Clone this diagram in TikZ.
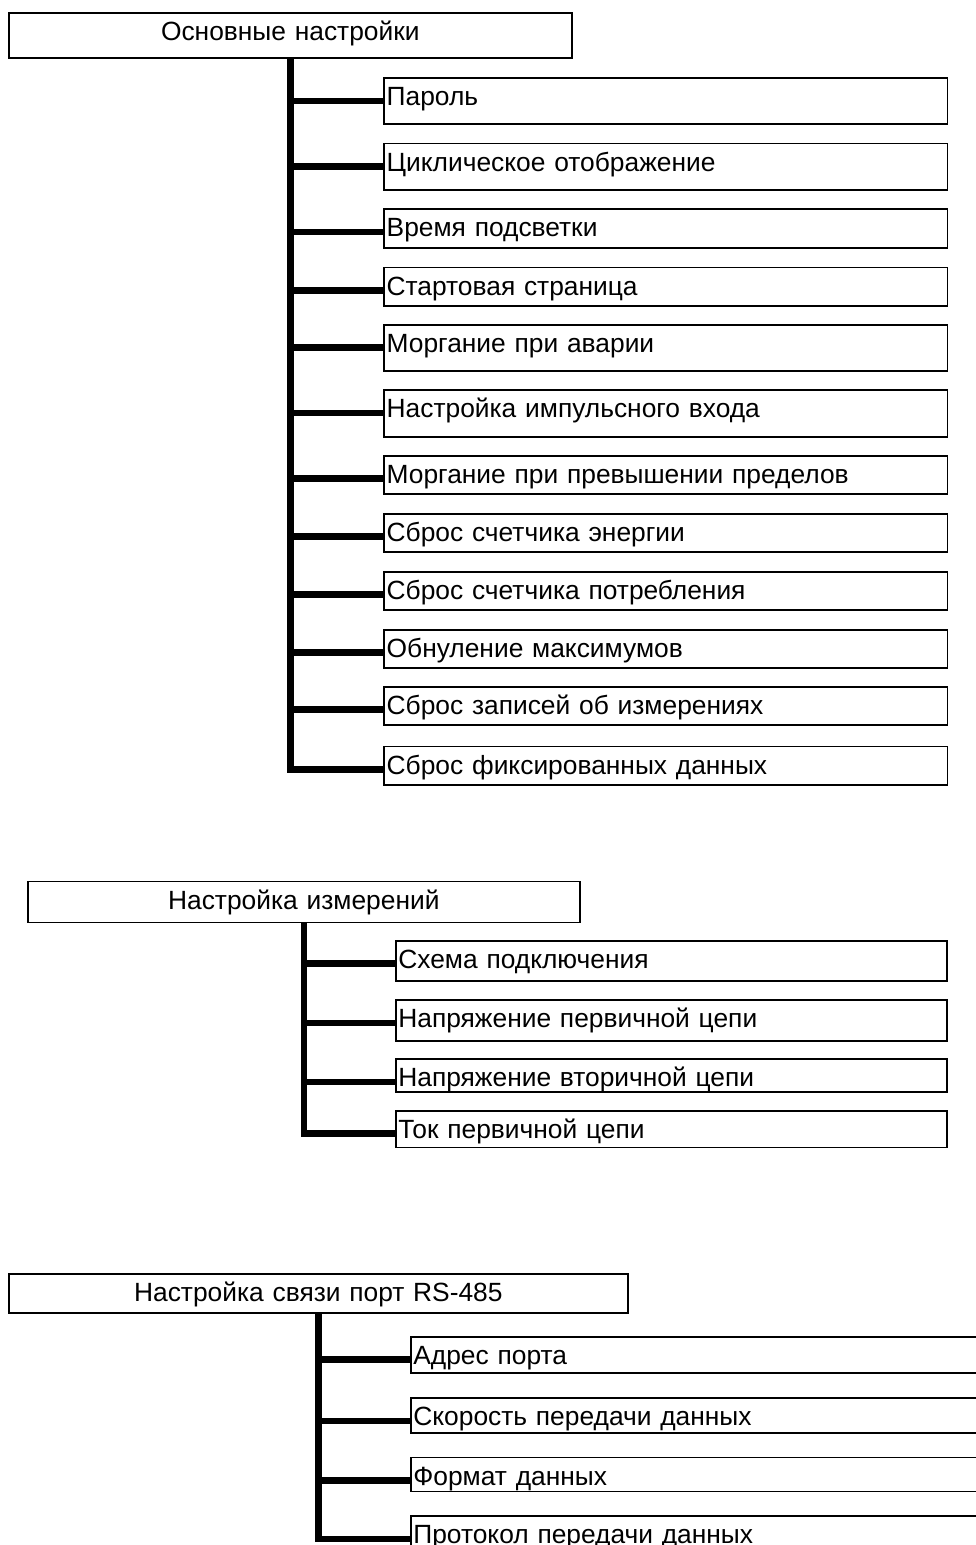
\documentclass[tikz,border=0pt]{standalone}
\usepackage{fontspec}
\setmainfont{Liberation Sans}

\begin{document}
\begin{tikzpicture}
  [x=0.02cm,y=-0.02cm,
   every node/.style={font=\fontsize{15pt}{17pt}\selectfont},
   head/.style={draw,line width=1pt,anchor=north west,inner xsep=0pt,inner ysep=0pt,
     text height=0.55cm,text depth=#1,align=center},
   item/.style={draw,line width=1pt,anchor=north west,inner xsep=0.05cm,inner ysep=0pt,
     text height=0.55cm,text depth=#1,align=left},
   itemA/.style={item=#1,text width=11.17cm},
   itemB/.style={item=#1,text width=10.93cm},
   itemC/.style={item=#1,text width=11.7cm},
   trunk/.style={line width=3.7pt}]
  \useasboundingbox (0,0) rectangle (976,1545);

  \node[head=0.36cm,text width=11.26cm] (osn) at (8,12) {Основные настройки};
  \node[itemA=0.37cm] (o1)  at (383.3,77.3)  {Пароль};
  \node[itemA=0.38cm] (o2)  at (383.3,142.7) {Циклическое отображение};
  \node[itemA=0.23cm] (o3)  at (383.3,208.3) {Время подсветки};
  \node[itemA=0.22cm] (o4)  at (383.3,266.7) {Стартовая страница};
  \node[itemA=0.38cm] (o5)  at (383.3,324)   {Моргание при аварии};
  \node[itemA=0.38cm] (o6)  at (383.3,389.3) {Настройка импульсного входа};
  \node[itemA=0.21cm] (o7)  at (383.3,455)   {Моргание при превышении пределов};
  \node[itemA=0.21cm] (o8)  at (383.3,513)   {Сброс счетчика энергии};
  \node[itemA=0.21cm] (o9)  at (383.3,571)   {Сброс счетчика потребления};
  \node[itemA=0.21cm] (o10) at (383.3,629)   {Обнуление максимумов};
  \node[itemA=0.21cm] (o11) at (383.3,686)   {Сброс записей об измерениях};
  \node[itemA=0.22cm] (o12) at (383.3,745.7) {Сброс фиксированных данных};

  \node[head=0.27cm,text width=11.04cm] (izm) at (27,880.7) {Настройка измерений};
  \node[itemB=0.25cm] (i1) at (395,940)    {Схема подключения};
  \node[itemB=0.26cm] (i2) at (395,999.3)  {Напряжение первичной цепи};
  \node[itemB=0.11cm] (i3) at (395,1058.3) {Напряжение вторичной цепи};
  \node[itemB=0.18cm] (i4) at (395,1110)   {Ток первичной цепи};

  \node[head=0.22cm,text width=12.38cm] (svz) at (8,1273.3) {Настройка связи порт RS-485};
  \node[itemC=0.17cm] (s1) at (410,1336)   {Адрес порта};
  \node[itemC=0.14cm] (s2) at (410,1397.3) {Скорость передачи данных};
  \node[itemC=0.13cm] (s3) at (410,1456.7) {Формат данных};
  \node[itemC=0.21cm] (s4) at (410,1515)   {Протокол передачи данных};

  \draw[trunk] (osn.south) |- (o12.mid west);
  \draw[trunk] (izm.south) |- (i4.mid west);
  \draw[trunk] (svz.south) |- (s4.mid west);
  \foreach \from/\to in {osn/o1,osn/o2,osn/o3,osn/o4,osn/o5,osn/o6,osn/o7,osn/o8,osn/o9,osn/o10,osn/o11,
                         izm/i1,izm/i2,izm/i3,svz/s1,svz/s2,svz/s3}
    \draw[trunk] (\from.south |- \to.mid west) -- (\to.mid west);

\end{tikzpicture}
\end{document}
